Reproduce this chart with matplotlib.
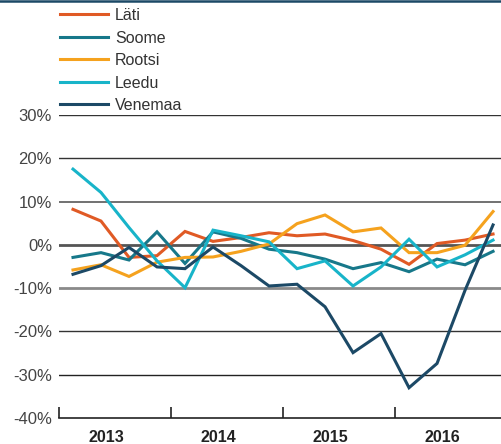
import matplotlib
matplotlib.use("Agg")
import matplotlib.pyplot as plt
from matplotlib.lines import Line2D

plt.rcParams['font.family'] = ['Liberation Sans', 'DejaVu Sans']

# quarterly values 2013Q1 .. 2016Q4 (%)
years = ["2013", "2014", "2015", "2016"]
lati = [8.2, 5.5, -2.9, -2.5, 3.1, 0.8, 1.7, 2.8, 2.1, 2.5, 1.0, -1.0, -4.5, 0.3, 1.1, 2.5]
soome = [-2.9, -1.8, -3.5, 3.0, -4.3, 3.0, 1.5, -1.0, -1.8, -3.3, -5.5, -4.1, -6.2, -3.3, -4.6, -1.5]
rootsi = [-5.8, -4.6, -7.3, -4.0, -2.9, -2.8, -1.5, 0.2, 4.9, 6.9, 3.0, 3.9, -1.8, -1.8, -0.1, 7.7]
leedu = [17.5, 12.1, 4.0, -3.7, -9.9, 3.4, 2.1, 0.7, -5.5, -3.7, -9.5, -5.1, 1.3, -5.1, -2.3, 1.1]
venemaa = [-6.8, -4.8, -0.6, -5.1, -5.5, -0.5, -4.8, -9.5, -9.1, -14.3, -24.9, -20.5, -33.0, -27.4, -10.5, 4.6]

series = [
    ("Läti", lati, "#E05A25"),
    ("Soome", soome, "#17788A"),
    ("Rootsi", rootsi, "#F5A21E"),
    ("Leedu", leedu, "#18B4C9"),
    ("Venemaa", venemaa, "#1C4966"),
]

fig = plt.figure(figsize=(5.02, 4.44), dpi=100)
ax = fig.add_axes([59 / 502, 26 / 444, 1 - 59 / 502, (418 - 115) / 444])

# gridlines
grid_style = {30: ("#333333", 1.0), 20: ("#333333", 1.0), 10: ("#666666", 1.3),
              0: ("#555555", 2.0), -10: ("#8a8a8a", 2.0), -20: ("#333333", 1.0),
              -30: ("#222222", 1.0)}
for yv, (c, lw) in grid_style.items():
    ax.axhline(yv, color=c, lw=lw, zorder=1)

x = list(range(len(lati)))
for name, vals, col in series:
    ax.plot(x, vals, color=col, lw=2.2, label=name, zorder=3, solid_joinstyle='miter')

ax.set_xlim(-0.5, 15.32)
ax.set_ylim(-40, 30)

for s in ["top", "right", "left"]:
    ax.spines[s].set_visible(False)
ax.spines["bottom"].set_color("#222222")
ax.spines["bottom"].set_linewidth(1.2)

ax.set_yticks(range(-40, 31, 10))
ax.set_yticklabels([f"{v}%" for v in range(-40, 31, 10)], fontsize=12, color="#444444")
ax.tick_params(axis="y", length=0, pad=5)

ax.set_xticks([-0.5, 3.5, 7.5, 11.5])
ax.set_xticklabels([])
ax.tick_params(axis="x", direction="in", length=8, width=1.2, color="#222222")

for k, yr in enumerate(years):
    ax.text(1.18 + 4 * k, -44.5, yr, ha="center", va="center", fontsize=11.5,
            fontweight="bold", color="#222222", clip_on=False)

leg = fig.legend(loc="upper left", bbox_to_anchor=(60 / 502, 1 - 8 / 444), frameon=False,
                 fontsize=11.5, handlelength=3.0, handletextpad=0.45, labelspacing=0.47,
                 borderpad=0, borderaxespad=0)
for t in leg.get_texts():
    t.set_color("#333333")

# top border
fig.add_artist(Line2D([0, 1], [1 - 1 / 444, 1 - 1 / 444], transform=fig.transFigure,
                      color="#1C4966", lw=1.8))

fig.savefig("out.png", dpi=100)
